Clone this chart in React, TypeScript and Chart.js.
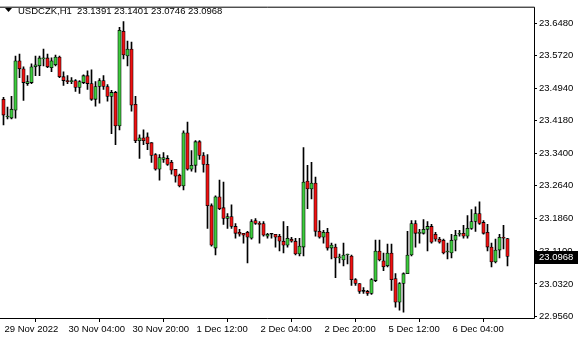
import React, { useEffect, useRef } from 'react';
import { Chart, registerables } from 'chart.js';

Chart.register(...registerables);

const symbolName = 'USDCZK,H1';

const opens = [
  23.4686, 23.4267, 23.4243, 23.4430, 23.5595, 23.5408, 23.5059, 23.5082, 23.5455, 23.5478,
  23.5641, 23.5665, 23.5432, 23.5502, 23.5688, 23.5222, 23.5129, 23.5106, 23.5129, 23.4966,
  23.5082, 23.5245, 23.5059, 23.4686, 23.4989, 23.5129, 23.4989, 23.4756, 23.4849, 23.4057,
  23.6294, 23.5711, 23.5874, 23.4570, 23.3708, 23.3777, 23.3801, 23.3661, 23.3381, 23.3032,
  23.3265, 23.3288, 23.3195, 23.3032, 23.2892, 23.2636, 23.3894, 23.3032, 23.3125, 23.3684,
  23.3358, 23.3148, 23.2170, 23.1168, 23.2379, 23.2123, 23.1867, 23.1913, 23.1680, 23.1541,
  23.1517, 23.1541, 23.1401, 23.1820, 23.1750, 23.1750, 23.1447, 23.1494, 23.1494, 23.1447,
  23.1331, 23.1238, 23.1378, 23.1331, 23.1028, 23.1191, 23.2752, 23.2566, 23.2706, 23.1564,
  23.1424, 23.1541, 23.1168, 23.1191, 23.0935, 23.0888, 23.1005, 23.0981, 23.0422, 23.0329,
  23.0143, 23.0143, 23.0096, 23.0399, 23.1098, 23.0865, 23.0748, 23.1051, 23.0446, 22.9886,
  23.0329, 23.0562, 23.1005, 23.1750, 23.1517, 23.1517, 23.1611, 23.1680, 23.1494, 23.1378,
  23.1354, 23.1075, 23.1051, 23.1354, 23.1494, 23.1517, 23.1447, 23.1634, 23.1797, 23.1983,
  23.1774, 23.1541, 23.1191, 23.0842, 23.1121, 23.1424, 23.1391,
];
const highs = [
  23.4733, 23.4500, 23.4756, 23.5711, 23.5758, 23.5455, 23.5245, 23.5525, 23.5711, 23.5711,
  23.5874, 23.5758, 23.5665, 23.5735, 23.5711, 23.5339, 23.5245, 23.5199, 23.5152, 23.5129,
  23.5268, 23.5362, 23.5385, 23.5106, 23.5175, 23.5245, 23.5036, 23.4896, 23.4873, 23.6387,
  23.6527, 23.6061, 23.6038, 23.4756, 23.3847, 23.3964, 23.3894, 23.3661, 23.3405, 23.3381,
  23.3428, 23.3358, 23.3242, 23.3032, 23.2915, 23.3941, 23.4150, 23.3475, 23.3708, 23.3708,
  23.3428, 23.3381, 23.2216, 23.2403, 23.2776, 23.2729, 23.1983, 23.2193, 23.1750, 23.1611,
  23.1517, 23.1564, 23.1844, 23.1867, 23.1797, 23.1797, 23.1517, 23.1517, 23.1494, 23.1494,
  23.1797, 23.1680, 23.1424, 23.1401, 23.1401, 23.3544, 23.3125, 23.3195, 23.2845, 23.1820,
  23.1587, 23.1634, 23.1284, 23.1261, 23.1028, 23.1284, 23.1028, 23.1005, 23.0446, 23.0329,
  23.0236, 23.0166, 23.0446, 23.1354, 23.1354, 23.1051, 23.1261, 23.1261, 23.0562, 23.0352,
  23.0585, 23.1564, 23.1820, 23.1820, 23.1611, 23.1844, 23.1797, 23.1727, 23.1541, 23.1424,
  23.1378, 23.1284, 23.1494, 23.1587, 23.1587, 23.1704, 23.1937, 23.2077, 23.2146, 23.2263,
  23.1820, 23.1727, 23.1284, 23.1378, 23.1494, 23.1704, 23.1401,
];
const lows = [
  23.4080, 23.4220, 23.4220, 23.4243, 23.5199, 23.4663, 23.5012, 23.5059, 23.5245, 23.5245,
  23.5478, 23.5432, 23.5339, 23.5478, 23.5199, 23.5012, 23.5059, 23.5059, 23.4873, 23.4826,
  23.5059, 23.4919, 23.4663, 23.4523, 23.4593, 23.4919, 23.4640, 23.3871, 23.3614, 23.3964,
  23.5641, 23.5478, 23.4407, 23.3661, 23.3288, 23.3614, 23.3498, 23.3195, 23.3009, 23.2776,
  23.3195, 23.3125, 23.2915, 23.2729, 23.2613, 23.2543, 23.3009, 23.2985, 23.2962, 23.3265,
  23.2962, 23.1634, 23.1214, 23.1005, 23.2077, 23.1727, 23.1634, 23.1634, 23.1401, 23.1447,
  23.1284, 23.0818, 23.1378, 23.1727, 23.1284, 23.1447, 23.1401, 23.1401, 23.1191, 23.1098,
  23.1051, 23.1191, 23.1308, 23.1005, 23.0981, 23.0981, 23.2100, 23.2333, 23.1447, 23.1401,
  23.1284, 23.1121, 23.0912, 23.0469, 23.0818, 23.0748, 23.0795, 23.0282, 23.0282, 23.0096,
  23.0096, 23.0049, 23.0073, 23.0376, 23.0865, 23.0632, 23.0725, 23.0166, 22.9770, 22.9700,
  22.9653, 23.0562, 23.0981, 23.1191, 23.1284, 23.1494, 23.1098, 23.1284, 23.1331, 23.1284,
  23.1028, 23.0912, 23.0935, 23.1098, 23.1447, 23.1401, 23.1401, 23.1611, 23.1564, 23.1727,
  23.1494, 23.1098, 23.0725, 23.0818, 23.0935, 23.1145, 23.0746,
];
const closes = [
  23.4313, 23.4290, 23.4453, 23.5595, 23.5408, 23.5082, 23.5106, 23.5455, 23.5502, 23.5665,
  23.5665, 23.5455, 23.5595, 23.5688, 23.5222, 23.5129, 23.5106, 23.5129, 23.4966, 23.5106,
  23.5245, 23.5059, 23.4686, 23.4989, 23.5129, 23.4989, 23.4756, 23.4849, 23.4057, 23.6317,
  23.5735, 23.5874, 23.4546, 23.3708, 23.3777, 23.3708, 23.3638, 23.3358, 23.3032, 23.3311,
  23.3311, 23.3148, 23.3009, 23.2869, 23.2636, 23.3894, 23.3032, 23.3125, 23.3684, 23.3358,
  23.3148, 23.2170, 23.1238, 23.2379, 23.2100, 23.1867, 23.1913, 23.1680, 23.1517, 23.1494,
  23.1471, 23.1424, 23.1797, 23.1750, 23.1727, 23.1471, 23.1494, 23.1494, 23.1424, 23.1331,
  23.1238, 23.1401, 23.1331, 23.1028, 23.1214, 23.2729, 23.2566, 23.2706, 23.1564, 23.1424,
  23.1541, 23.1168, 23.1238, 23.0935, 23.0958, 23.1005, 23.1028, 23.0422, 23.0329, 23.0143,
  23.0143, 23.0096, 23.0422, 23.1098, 23.0888, 23.0725, 23.1051, 23.0422, 22.9886, 23.0329,
  23.0562, 23.1005, 23.1750, 23.1517, 23.1541, 23.1611, 23.1680, 23.1308, 23.1378, 23.1308,
  23.1051, 23.1098, 23.1354, 23.1471, 23.1517, 23.1447, 23.1634, 23.1797, 23.1983, 23.1750,
  23.1517, 23.1191, 23.0842, 23.1121, 23.1424, 23.1401, 23.0968,
];

const timeLabels = ['29 Nov 2022', '30 Nov 04:00', '30 Nov 20:00', '1 Dec 12:00', '2 Dec 04:00', '2 Dec 20:00', '5 Dec 12:00', '6 Dec 04:00'];
const timeLabelBars = [0, 16, 32, 48, 64, 80, 96, 112];
const priceTicks = [22.956, 23.032, 23.11, 23.186, 23.264, 23.34, 23.418, 23.494, 23.572, 23.648];

const BULL = '#3ccc3c';
const BEAR = '#f01010';
const FONT = { family: '"Liberation Sans", Arial, sans-serif', size: 9.5 };

export default function App() {
  const ref = useRef<HTMLCanvasElement>(null);

  useEffect(() => {
    document.body.style.margin = '0';
    const canvas = ref.current;
    if (!canvas) return;
    const n = closes.length;
    const bodyColors = closes.map((c, i) => (c > opens[i] ? BULL : c < opens[i] ? BEAR : '#000'));

    const framePlugin = {
      id: 'mtFrame',
      afterDraw(chart: any) {
        const { ctx, chartArea } = chart;
        const { left, right, top, bottom } = chartArea;
        ctx.save();
        ctx.strokeStyle = '#000';
        ctx.lineWidth = 1;
        ctx.beginPath();
        ctx.moveTo(left, top - 0.5);
        ctx.lineTo(right + 0.5, top - 0.5);
        ctx.lineTo(right + 0.5, bottom + 0.5);
        ctx.lineTo(left, bottom + 0.5);
        ctx.stroke();

        // header
        ctx.fillStyle = '#000';
        ctx.beginPath();
        ctx.moveTo(5, 8);
        ctx.lineTo(12, 8);
        ctx.lineTo(8.5, 12);
        ctx.closePath();
        ctx.fill();
        ctx.font = `${FONT.size}px ${FONT.family}`;
        ctx.textBaseline = 'middle';
        ctx.textAlign = 'left';
        const last = n - 1;
        const header = `${symbolName}  ${opens[last].toFixed(4)} ${highs[last].toFixed(4)} ${lows[last].toFixed(4)} ${closes[last].toFixed(4)}`;
        ctx.fillText(header, 18, 11);

        // last price box
        const yScale = chart.scales.y;
        const py = Math.round(yScale.getPixelForValue(closes[last]));
        ctx.fillStyle = '#000';
        ctx.fillRect(right + 1, py - 6, 43, 13);
        ctx.fillStyle = '#fff';
        ctx.fillText(closes[last].toFixed(4), right + 5, py + 0.5);
        ctx.restore();
      },
    };

    const chart = new Chart(canvas, {
      type: 'bar',
      data: {
        datasets: [
          {
            label: 'body',
            data: opens.map((o, i) => ({ x: i, y: [o, closes[i]] })) as any,
            backgroundColor: bodyColors,
            borderColor: '#000',
            borderWidth: 0.8,
            borderSkipped: false,
            barThickness: 3.4,
            minBarLength: 1,
            grouped: false,
            order: 0,
          } as any,
          {
            label: 'wick',
            data: lows.map((l, i) => ({ x: i, y: [l, highs[i]] })) as any,
            backgroundColor: '#000',
            borderWidth: 0,
            barThickness: 1,
            grouped: false,
            order: 1,
          } as any,
        ],
      },
      options: {
        responsive: false,
        animation: false,
        devicePixelRatio: 1,
        layout: { padding: { top: 3, left: 0, right: 0, bottom: 0 } },
        plugins: { legend: { display: false }, tooltip: { enabled: false } },
        scales: {
          x: {
            type: 'linear',
            offset: false,
            min: -0.875,
            max: 132.625,
            afterBuildTicks: (scale: any) => {
              scale.ticks = timeLabelBars.map((v) => ({ value: v }));
            },
            afterFit: (scale: any) => {
              scale.height = 22;
            },
            ticks: {
              autoSkip: false,
              maxRotation: 0,
              align: 'start',
              labelOffset: 1,
              padding: 2,
              color: '#000',
              font: FONT,
              callback: (v: any) => {
                const k = timeLabelBars.indexOf(Number(v));
                return k >= 0 ? timeLabels[k] : '';
              },
            },
            grid: { drawOnChartArea: false, drawTicks: true, tickLength: 4, color: '#000' },
            border: { display: false },
          },
          y: {
            type: 'linear',
            position: 'right',
            min: 22.9514,
            max: 23.6853,
            afterBuildTicks: (scale: any) => {
              scale.ticks = priceTicks.map((v) => ({ value: v }));
            },
            afterFit: (scale: any) => {
              scale.width = 46;
            },
            ticks: {
              padding: 2,
              color: '#000',
              font: FONT,
              callback: (v: any) => Number(v).toFixed(4),
            },
            grid: { drawOnChartArea: false, drawTicks: true, tickLength: 3, color: '#000' },
            border: { display: false },
          },
        },
      },
      plugins: [framePlugin],
    });
    return () => chart.destroy();
  }, []);

  return <canvas ref={ref} width={580} height={340} style={{ display: 'block', width: 580, height: 340 }} />;
}
